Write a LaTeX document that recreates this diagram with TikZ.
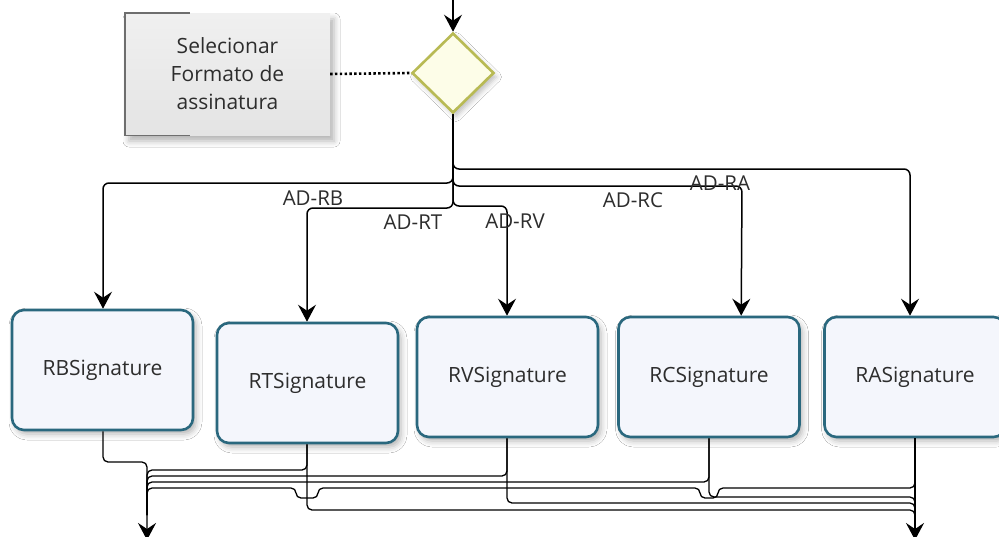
\documentclass[tikz,border=0pt]{standalone}
\usepackage{fontspec}
\setmainfont{Open Sans}
\usetikzlibrary{shapes.geometric,arrows.meta,shadows.blur}

\definecolor{boxline}{RGB}{42,104,126}
\definecolor{boxfill}{RGB}{244,246,252}
\definecolor{gateline}{RGB}{184,186,84}
\definecolor{gatefill}{RGB}{253,253,232}
\definecolor{notetop}{RGB}{240,240,240}
\definecolor{notebot}{RGB}{228,228,228}
\definecolor{noteline}{RGB}{110,110,110}
\definecolor{txt}{RGB}{45,45,45}

\tikzset{
  sigbox/.style={draw=boxline, line width=2.6pt, fill=boxfill, rounded corners=12pt,
    minimum width=181pt, minimum height=120pt, inner sep=0pt, text=txt,
    font=\fontsize{21}{24}\selectfont,
    blur shadow={shadow xshift=3pt, shadow yshift=-4pt, shadow blur radius=6pt, shadow opacity=30}},
  gate/.style={diamond, draw=gateline, line width=2.6pt, fill=gatefill, inner sep=0pt,
    minimum width=82pt, minimum height=80pt,
    blur shadow={shadow xshift=3pt, shadow yshift=-4pt, shadow blur radius=5pt, shadow opacity=25}},
  annot/.style={top color=notetop, bottom color=notebot, minimum width=205pt, minimum height=122pt,
    inner sep=0pt, align=center, text=txt, font=\fontsize{21}{28}\selectfont,
    blur shadow={shadow xshift=4pt, shadow yshift=-6pt, shadow blur radius=6pt, shadow opacity=30}},
  bracket/.style={draw=noteline, line width=1.4pt},
  dotline/.style={line width=2.6pt, dash pattern=on 2.4pt off 2.4pt},
  flow/.style={line width=1.5pt, rounded corners=6pt},
  outflow/.style={line width=1.3pt, rounded corners=5pt},
  tip/.style={-{Stealth[length=17pt, width=18pt, inset=6pt]}},
  lbl/.style={text=txt, font=\fontsize{20.5}{24}\selectfont, inner sep=0pt}
}

\begin{document}
\begin{tikzpicture}[x=1pt, y=-1pt]
\useasboundingbox (0,0) rectangle (999,536);
\clip (0,0) rectangle (999,536);
\fill[white] (0,0) rectangle (999,536);

% text annotation and exclusive gateway
\node[annot] (note) at (227.5,74) {Selecionar\\Formato de\\assinatura};
\draw[bracket] ([xshift=65pt]note.north west) -- (note.north west)
  -- (note.south west) -- ([xshift=65pt]note.south west);
\node[gate] (dia) at (453,73) {};
\draw[dotline] (note.east) -- (dia.west);
\coordinate (topin) at (453,-4);
\draw[line width=1.5pt, tip] (topin) -- (dia.north);

% signature tasks
\node[sigbox] (RB) at (102.5,370) {RBSignature};
\node[sigbox] (RT) at (307.5,383) {RTSignature};
\node[sigbox] (RV) at (507.5,377) {RVSignature};
\node[sigbox] (RC) at (709,377) {RCSignature};
\node[sigbox] (RA) at (915,377) {RASignature};

% outgoing sequence flows of the gateway
\draw[flow, tip] (dia.south) -- (453,169) -- (910,169) -- ([xshift=-5pt]RA.north);
\draw[flow, tip] (dia.south) -- (453,186) -- (742,186) -- ([xshift=124pt]RC.north west);
\draw[flow, tip] (dia.south) -- (453,183) -- (103,183) -- ([xshift=0.5pt]RB.north);
\draw[flow, tip] (dia.south) -- (453,208) -- (307,208) -- ([xshift=-0.5pt]RT.north);
\draw[flow, tip] (dia.south) -- (453,206) -- (507,206) -- ([xshift=-0.5pt]RV.north);

\node[lbl] (lRB) at (313,198) {AD-RB};
\node[lbl] (lRT) at (413,222) {AD-RT};
\node[lbl] (lRV) at (515,221) {AD-RV};
\node[lbl] (lRC) at (633,200) {AD-RC};
\node[lbl] (lRA) at (720,183) {AD-RA};

% merged flows towards the two end points
\coordinate (endL) at (147,540);
\coordinate (endR) at (915,540);

\draw[outflow, tip] ([xshift=0.5pt]RB.south) -- (103,462) -- (147,462) -- (endL);
\draw[outflow] ([xshift=-0.5pt]RT.south) -- (307,470) -- (147,470) -- (147,515);
\draw[outflow] ([xshift=-0.5pt]RV.south) -- (507,476) -- (147,476) -- (147,515);
\draw[outflow] (RC.south) -- (709,482) -- (147,482) -- (147,515);
\draw[outflow] (RA.south) -- (915,488) -- (718,488) -- (718,498) -- (700,498) -- (700,488)
  -- (318,488) -- (318,498) -- (296,498) -- (296,488) -- (147,488) -- (147,515);

\draw[outflow, tip] (RA.south) -- (endR);
\draw[outflow] ([xshift=-0.5pt]RT.south) -- (307,510) -- (915,510) -- (915,520);
\draw[outflow] ([xshift=-0.5pt]RV.south) -- (507,503) -- (915,503) -- (915,520);
\draw[outflow] (RC.south) -- (709,497) -- (915,497) -- (915,520);
\end{tikzpicture}
\end{document}
